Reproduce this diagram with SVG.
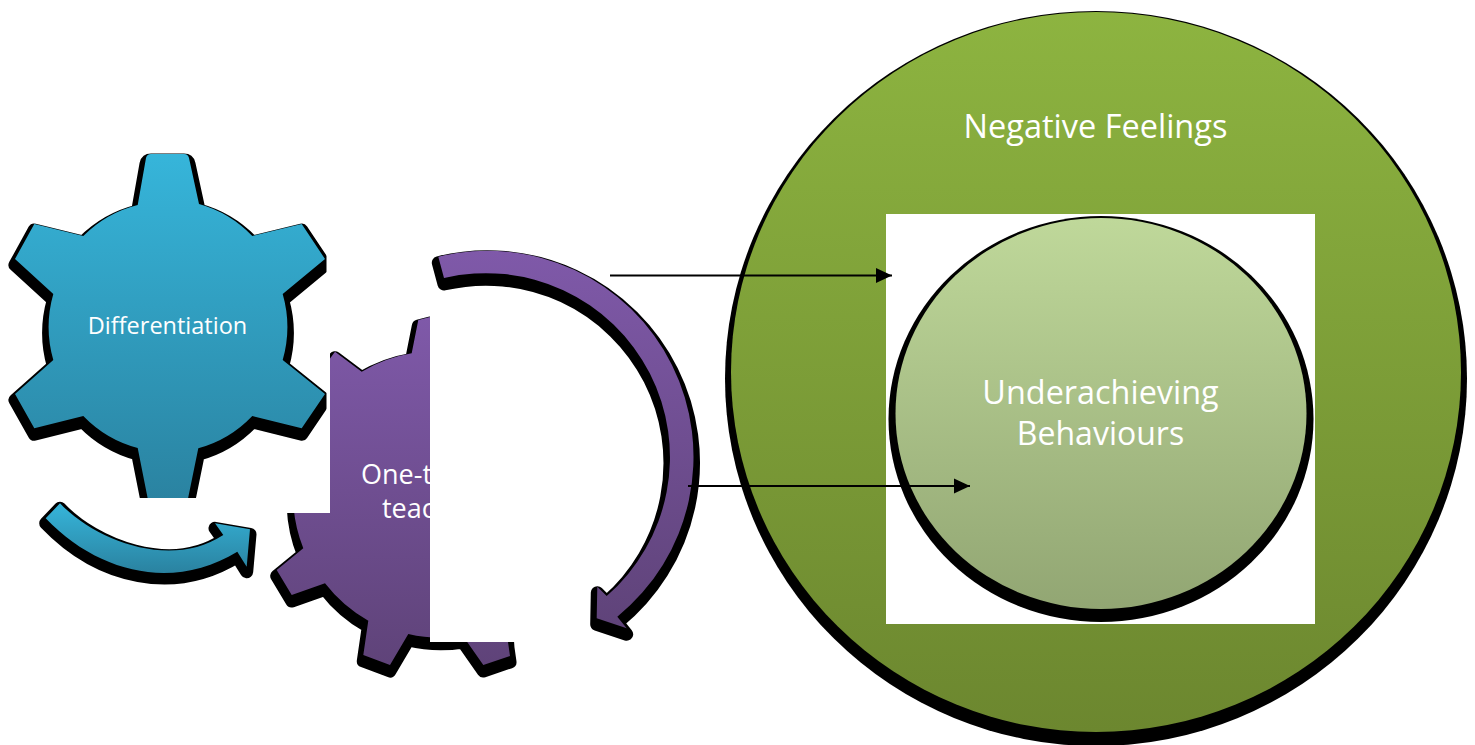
<svg xmlns="http://www.w3.org/2000/svg" width="1475" height="745" viewBox="0 0 1475 745">
<style>
.sh{fill:#000;stroke:#000;stroke-width:13;stroke-linejoin:round}
.t{font-family:"Open Sans","Noto Sans",sans-serif;fill:#fff;text-anchor:middle}
.s{text-anchor:start}
.ln{stroke:#000;stroke-width:2;fill:none;marker-end:url(#ah)}
</style>
<defs>
<linearGradient id="b" x1="0" y1="0" x2="0" y2="1"><stop offset="0" stop-color="#36b5da"/><stop offset="1" stop-color="#2a82a0"/></linearGradient>
<linearGradient id="p" x1="0" y1="0" x2="0" y2="1"><stop offset="0" stop-color="#7f59a9"/><stop offset="1" stop-color="#5f4379"/></linearGradient>
<linearGradient id="g" x1="0" y1="0" x2="0" y2="1"><stop offset="0" stop-color="#8db440"/><stop offset="1" stop-color="#6c872f"/></linearGradient>
<linearGradient id="l" x1="0" y1="0" x2="0" y2="1"><stop offset="0" stop-color="#bfd89a"/><stop offset="1" stop-color="#92a673"/></linearGradient>
<marker id="ah" markerUnits="userSpaceOnUse" markerWidth="16" markerHeight="16" refX="16" refY="8" orient="auto"><path d="M0,0.5L16,8L0,15.500Z" fill="#000"/></marker>
<path id="bg" d="M146,158Q147,154 151,154L184,154Q188,154 189,158L199,204A118,122 0 0 1 252.3,236L301.7,224L325,259L282.7,294A120,120 0 0 1 282.7,360L325,394L301.7,428.3L252.3,416A118,122 0 0 1 198.3,448.3L186.7,505L149,505L137.7,448A118,122 0 0 1 83.3,416L34.3,428.3L15,394L53.3,360A120,120 0 0 1 53.3,294L15,259L34.3,224L83.3,236A118,122 0 0 1 137.7,205Z"/>
<path id="ba" d="M60,503.3C95,540 170,570 223.3,535L215,523.3L250,529.3L246.7,566.7L237.3,551.7C175,590 100,575 45.7,518.3Z"/>
<path id="pg" d="M335,351.7L361.7,371.7A143,143 0 0 1 411.7,353.3L418.3,320L430,317L505,400L505,600L508,642L510,656L483.3,665L463,636A143,143 0 0 1 408.3,634L390,665L363.3,655L368.3,620.7A143,143 0 0 1 325,583.3L291.7,595L276.7,570L303.3,548.3A143,143 0 0 1 294,480L300,400Z"/>
<path id="pa" d="M438.3,256.7A206,206 0 0 1 617.3,616.7L626.7,628.3L596.7,618.3L597.3,586.7L606.7,596A184,184 0 0 0 444,278Z"/>
<clipPath id="cb"><rect x="0" y="140" width="326.5" height="358"/></clipPath>
<clipPath id="cp"><rect x="330" y="300" width="100" height="213"/><rect x="250" y="513" width="180" height="129"/><rect x="250" y="642" width="300" height="60"/></clipPath>
<clipPath id="ct"><rect x="330" y="440" width="100" height="90"/></clipPath>
</defs>
<rect width="1475" height="745" fill="#fff"/>
<g id="negative-feelings">
<ellipse cx="1096" cy="378.500" rx="371" ry="367.500" fill="#000"/>
<ellipse cx="1096" cy="372" rx="365" ry="360" fill="url(#g)"/>
<rect x="886" y="214" width="429" height="410" fill="#fff"/>
<text class="t" x="1095.500" y="138" font-size="32.500">Negative Feelings</text>
</g>
<g id="underachieving-behaviours">
<ellipse cx="1101" cy="419" rx="212.500" ry="203" fill="#000"/>
<ellipse cx="1101" cy="413.500" rx="205.500" ry="195.500" fill="url(#l)"/>
<text class="t" x="1100.500" y="403.500" font-size="32.400">Underachieving</text>
<text class="t" x="1100.500" y="445" font-size="32">Behaviours</text>
</g>
<g id="one-to-one-gear">
<g clip-path="url(#cp)"><use href="#pg" class="sh" y="6"/><use href="#pg" fill="url(#p)"/></g>
<g clip-path="url(#ct)"><text class="t s" x="361" y="484" font-size="27">One-t</text></g>
<g clip-path="url(#ct)"><text class="t s" x="382" y="518" font-size="27">teac</text></g>
</g>
<g id="differentiation-gear">
<g clip-path="url(#cb)"><use href="#bg" class="sh" y="6"/><use href="#bg" fill="url(#b)"/></g>
<text class="t" x="167.500" y="334" font-size="23.500">Differentiation</text>
</g>
<g id="blue-arrow"><use href="#ba" class="sh" y="5"/><use href="#ba" fill="url(#b)"/></g>
<g id="purple-arrow"><use href="#pa" class="sh" y="6"/><use href="#pa" fill="url(#p)"/></g>
<g id="connectors">
<line class="ln" x1="610" y1="275.500" x2="892" y2="275.500"/>
<line class="ln" x1="688" y1="486" x2="970" y2="486"/>
</g>
</svg>
